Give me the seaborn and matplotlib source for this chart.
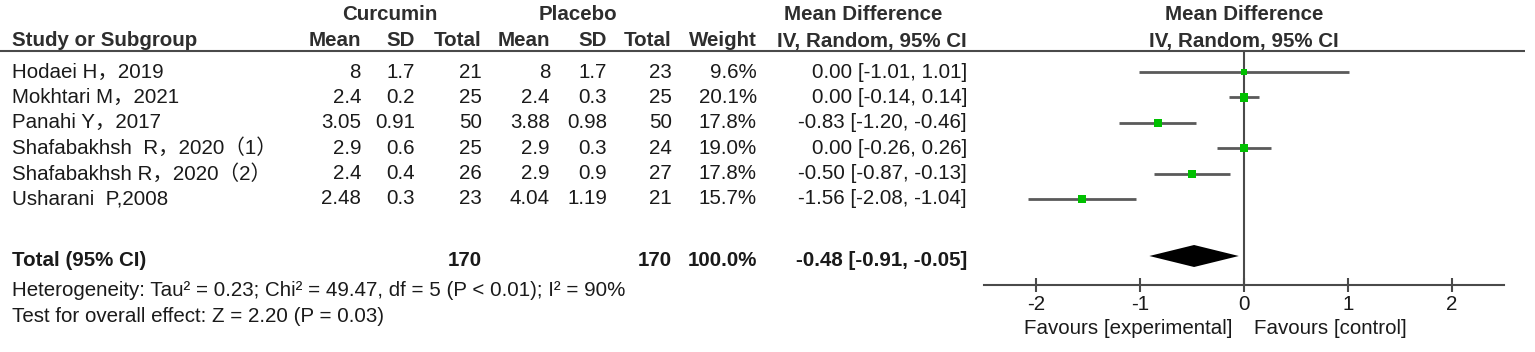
import numpy as np
import matplotlib
matplotlib.use("Agg")
import matplotlib.pyplot as plt
import seaborn as sns

# study-level data
studies = ["Hodaei H，2019", "Mokhtari M，2021", "Panahi Y，2017",
           "Shafabakhsh  R，2020（1）", "Shafabakhsh R，2020（2）", "Usharani  P,2008"]
cur_mean = [8, 2.4, 3.05, 2.9, 2.4, 2.48]
cur_sd = [1.7, 0.2, 0.91, 0.6, 0.4, 0.3]
cur_n = [21, 25, 50, 25, 26, 23]
pla_mean = [8, 2.4, 3.88, 2.9, 2.9, 4.04]
pla_sd = [1.7, 0.3, 0.98, 0.3, 0.9, 1.19]
pla_n = [23, 25, 50, 24, 27, 21]
weight = [9.6, 20.1, 17.8, 19.0, 17.8, 15.7]
md = [0.00, 0.00, -0.83, 0.00, -0.50, -1.56]
ci_lo = [-1.01, -0.14, -1.20, -0.26, -0.87, -2.08]
ci_hi = [1.01, 0.14, -0.46, 0.26, -0.13, -1.04]

# pooled result
total_cur = 170
total_pla = 170
total_weight = 100.0
total_md = -0.48
total_lo = -0.91
total_hi = -0.05
heterogeneity = "Heterogeneity: Tau² = 0.23; Chi² = 49.47, df = 5 (P < 0.01); I² = 90%"
overall = "Test for overall effect: Z = 2.20 (P = 0.03)"
xticks = [-2, -1, 0, 1, 2]

sns.set_theme(style="white")
plt.rcParams["font.family"] = ["Liberation Sans", "Noto Sans CJK SC", "DejaVu Sans"]
plt.rcParams["axes.unicode_minus"] = False

W, H = 1535, 352
FS = 14.8
TXT = "#1a1a1a"
HDR = "#2e2e2e"
LINE = "#4a4a4a"

fig = plt.figure(figsize=(W / 100, H / 100), dpi=100)

# table area in pixel coordinates
ax_t = fig.add_axes([0, 0, 1, 1])
ax_t.set_xlim(0, W)
ax_t.set_ylim(H, 0)
ax_t.axis("off")

row0, row_h = 72, 25.4
rows = row0 + row_h * np.arange(len(studies))
y_total = 260
x_name = 12
cols = {"cm": 361, "csd": 415, "cn": 482, "pm": 550, "psd": 607, "pn": 672, "w": 757, "ci": 967}


def fmt_ci(m, lo, hi):
    return f"{m:.2f} [{lo:.2f}, {hi:.2f}]"


# headers
hdr = dict(fontsize=FS, fontweight="bold", color=HDR, va="center")
ax_t.text(390, 15, "Curcumin", ha="center", **hdr)
ax_t.text(578, 15, "Placebo", ha="center", **hdr)
ax_t.text(863, 15, "Mean Difference", ha="center", **hdr)
ax_t.text(1244, 15, "Mean Difference", ha="center", **hdr)
ax_t.text(x_name, 41, "Study or Subgroup", ha="left", **hdr)
for key, lab in zip(["cm", "csd", "cn", "pm", "psd", "pn", "w", "ci"],
                    ["Mean", "SD", "Total", "Mean", "SD", "Total", "Weight", "IV, Random, 95% CI"]):
    ax_t.text(cols[key], 41, lab, ha="right", **hdr)
ax_t.text(1244, 41, "IV, Random, 95% CI", ha="center", **hdr)
ax_t.plot([0, 1525], [51, 51], color=LINE, lw=1.5, solid_capstyle="butt")

# study rows
reg = dict(fontsize=FS, color=TXT, va="center")
for i, y in enumerate(rows):
    ax_t.text(x_name, y, studies[i], ha="left", **reg)
    ax_t.text(cols["cm"], y, f"{cur_mean[i]:g}", ha="right", **reg)
    ax_t.text(cols["csd"], y, f"{cur_sd[i]:g}", ha="right", **reg)
    ax_t.text(cols["cn"], y, f"{cur_n[i]}", ha="right", **reg)
    ax_t.text(cols["pm"], y, f"{pla_mean[i]:g}", ha="right", **reg)
    ax_t.text(cols["psd"], y, f"{pla_sd[i]:g}", ha="right", **reg)
    ax_t.text(cols["pn"], y, f"{pla_n[i]}", ha="right", **reg)
    ax_t.text(cols["w"], y, f"{weight[i]:.1f}%", ha="right", **reg)
    ax_t.text(cols["ci"], y, fmt_ci(md[i], ci_lo[i], ci_hi[i]), ha="right", **reg)

# total row
bold = dict(fontsize=FS, fontweight="bold", color=TXT, va="center")
ax_t.text(x_name, y_total, "Total (95% CI)", ha="left", **bold)
ax_t.text(cols["cn"], y_total, f"{total_cur}", ha="right", **bold)
ax_t.text(cols["pn"], y_total, f"{total_pla}", ha="right", **bold)
ax_t.text(cols["w"], y_total, f"{total_weight:.1f}%", ha="right", **bold)
ax_t.text(cols["ci"], y_total, fmt_ci(total_md, total_lo, total_hi), ha="right", **bold)
ax_t.text(x_name, 291, heterogeneity, ha="left", **reg)
ax_t.text(x_name, 316, overall, ha="left", **reg)

# forest plot
top_px, bot_px = 51, 285
left_px, right_px = 984, 1504
ax_f = fig.add_axes([left_px / W, 1 - bot_px / H, (right_px - left_px) / W, (bot_px - top_px) / H])
ax_f.set_facecolor("none")
ax_f.set_xlim(-2.5, 2.5)
ax_f.set_ylim(bot_px, top_px)

ax_f.hlines(rows, ci_lo, ci_hi, color="#5a5a5a", lw=2)
sns.scatterplot(x=md, y=rows, size=weight, sizes=(0, 38), size_norm=(0, 20.1),
                marker="s", color="#00c000", linewidth=0, legend=False, ax=ax_f, zorder=3)
yd = y_total - 4
ax_f.fill([total_lo, total_md, total_hi, total_md],
          [yd, yd - 11, yd, yd + 11], color="black", lw=0)
ax_f.axvline(0, color=LINE, lw=1.5)

for s in ["top", "left", "right"]:
    ax_f.spines[s].set_visible(False)
ax_f.spines["bottom"].set_color(LINE)
ax_f.spines["bottom"].set_linewidth(1.5)
ax_f.set_yticks([])
ax_f.set_xticks(xticks)
ax_f.set_xticklabels([str(t) for t in xticks])
ax_f.tick_params(axis="x", direction="inout", length=10, width=1.5, color=LINE,
                 labelsize=FS, labelcolor=TXT, pad=2, bottom=True)
ax_f.set_xlabel("")
ax_f.set_ylabel("")

ax_t.text(1233, 328, "Favours [experimental]", ha="right", **reg)
ax_t.text(1254, 328, "Favours [control]", ha="left", **reg)

fig.savefig("out.png", dpi=100)
